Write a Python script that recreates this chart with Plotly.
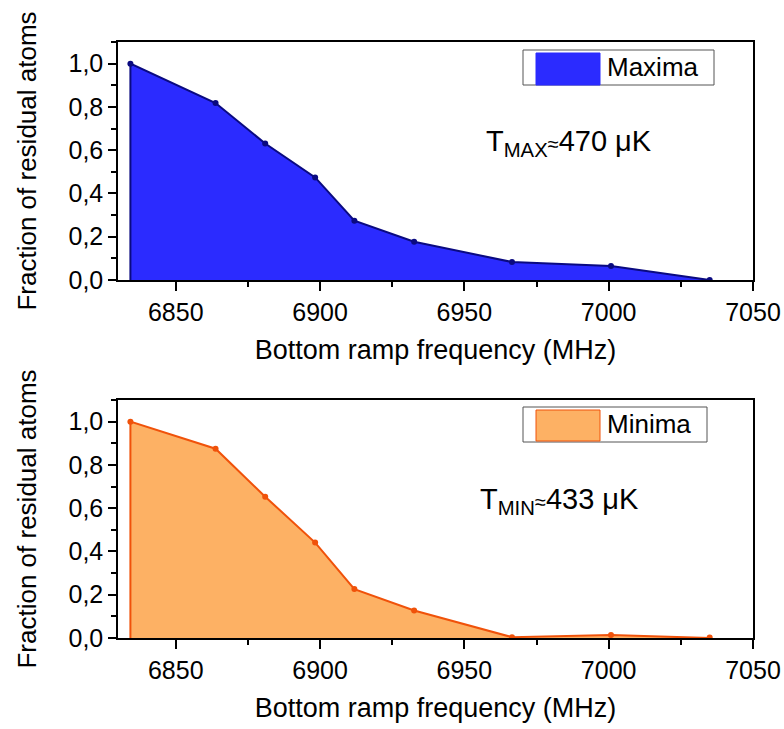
import plotly.graph_objects as go

# Bottom ramp frequency (MHz) and residual atom fraction for each evaporation run
freq = [6834.3, 6863.8, 6881.0, 6898.3, 6911.9, 6932.6, 6966.5, 7000.8, 7035.0]
frac_max = [1.0, 0.818, 0.631, 0.474, 0.274, 0.177, 0.083, 0.065, 0.0]
frac_min = [1.0, 0.875, 0.653, 0.441, 0.226, 0.127, 0.004, 0.014, 0.002]

x_ticks = [6850, 6900, 6950, 7000, 7050]
y_ticks = [0.0, 0.2, 0.4, 0.6, 0.8, 1.0]

W, H = 784, 729
FONT = "Liberation Sans, Arial, sans-serif"

MAX_FILL, MAX_LINE = "#2B2BFF", "#0A0A80"
MIN_FILL, MIN_LINE = "#FDB164", "#F0520A"


def px(x):
    return x / W


def py(y):
    return 1 - y / H


fig = go.Figure()


def add_area(x, y, fill, line, xa, ya, name):
    # closed outline: drop to the baseline at both ends of the data
    xs = [x[0]] + list(x) + [x[-1]]
    ys = [0] + list(y) + [0]
    fig.add_trace(go.Scatter(x=xs, y=ys, mode="lines", fill="toself",
                             fillcolor=fill, line=dict(color=line, width=2),
                             xaxis=xa, yaxis=ya, name=name, showlegend=False,
                             hoverinfo="skip"))
    fig.add_trace(go.Scatter(x=x, y=y, mode="markers",
                             marker=dict(color=line, size=6),
                             xaxis=xa, yaxis=ya, name=name, showlegend=False))


add_area(freq, frac_max, MAX_FILL, MAX_LINE, "x", "y", "Maxima")
add_area(freq, frac_min, MIN_FILL, MIN_LINE, "x2", "y2", "Minima")

x_dom = [px(118), px(753)]
top_dom = [py(280), py(42)]
bot_dom = [py(638), py(400)]

tick_style = dict(ticks="outside", tickwidth=1.5, tickcolor="black",
                  showline=True, linewidth=1.5, linecolor="black",
                  showgrid=False, zeroline=False, automargin=False)
x_minor = dict(ticks="outside", ticklen=5, dtick=25, tick0=6850,
               tickwidth=1.5, tickcolor="black", showgrid=False)

xaxis_common = dict(
    tick_style, range=[6830, 7050], tickvals=x_ticks, ticklen=9,
    mirror=True, tickfont=dict(family=FONT, size=25, color="black"),
    minor=x_minor,
    title=dict(text="Bottom ramp frequency (MHz)",
               font=dict(family=FONT, size=27, color="black"), standoff=15),
    domain=x_dom,
)
# frame top edge carries the same major and minor ticks, without labels
xaxis_top = dict(
    tick_style, range=[6830, 7050], tickvals=x_ticks, ticklen=9,
    showticklabels=False, side="top", minor=x_minor, domain=x_dom,
)
yaxis_common = dict(
    tick_style, range=[0, 1.1], tickvals=y_ticks, tickformat=".1f",
    ticklen=8, mirror=True,
    tickfont=dict(family=FONT, size=25, color="black"),
    minor=dict(ticks="outside", ticklen=5, dtick=0.1, tick0=0,
               tickwidth=1.5, tickcolor="black", showgrid=False),
    title=dict(text="Fraction of residual atoms",
               font=dict(family=FONT, size=26, color="black"), standoff=24),
)

fig.update_layout(
    width=W, height=H,
    margin=dict(l=0, r=0, t=0, b=0),
    paper_bgcolor="white", plot_bgcolor="white",
    separators=",.",
    xaxis=dict(xaxis_common, anchor="y"),
    yaxis=dict(yaxis_common, domain=top_dom, anchor="x"),
    xaxis2=dict(xaxis_common, anchor="y2"),
    yaxis2=dict(yaxis_common, domain=bot_dom, anchor="x2"),
    xaxis3=dict(xaxis_top, anchor="y", overlaying="x"),
    xaxis4=dict(xaxis_top, anchor="y2", overlaying="x2"),
    showlegend=False,
)


def legend_box(x0, x1, y0, y1, sx0, sx1, sy0, sy1, fill, edge, label):
    fig.add_shape(type="rect", xref="paper", yref="paper",
                  x0=px(x0), x1=px(x1), y0=py(y1), y1=py(y0),
                  line=dict(color="#555555", width=1), fillcolor="white")
    fig.add_shape(type="rect", xref="paper", yref="paper",
                  x0=px(sx0), x1=px(sx1), y0=py(sy1), y1=py(sy0),
                  line=dict(color=edge, width=1), fillcolor=fill)
    fig.add_annotation(xref="paper", yref="paper", x=px(sx1 + 5),
                       y=py((y0 + y1) / 2), xanchor="left", yanchor="middle",
                       text=label, showarrow=False,
                       font=dict(family=FONT, size=26, color="black"))


legend_box(523, 714, 50, 85, 536, 600, 53, 85, MAX_FILL, MAX_FILL, "Maxima")
legend_box(523, 707, 407, 442, 536, 600, 410, 441, MIN_FILL, MIN_LINE, "Minima")

APPROX = '<span style="font-size:20px">≈</span>'
fig.add_annotation(xref="paper", yref="paper", x=px(484), y=py(143),
                   xanchor="left", yanchor="middle", showarrow=False,
                   text="T<sub>MAX</sub>" + APPROX + "470 μK",
                   font=dict(family=FONT, size=29, color="black"))
fig.add_annotation(xref="paper", yref="paper", x=px(478), y=py(501),
                   xanchor="left", yanchor="middle", showarrow=False,
                   text="T<sub>MIN</sub>" + APPROX + "433 μK",
                   font=dict(family=FONT, size=29, color="black"))

fig.write_html("out.html")
